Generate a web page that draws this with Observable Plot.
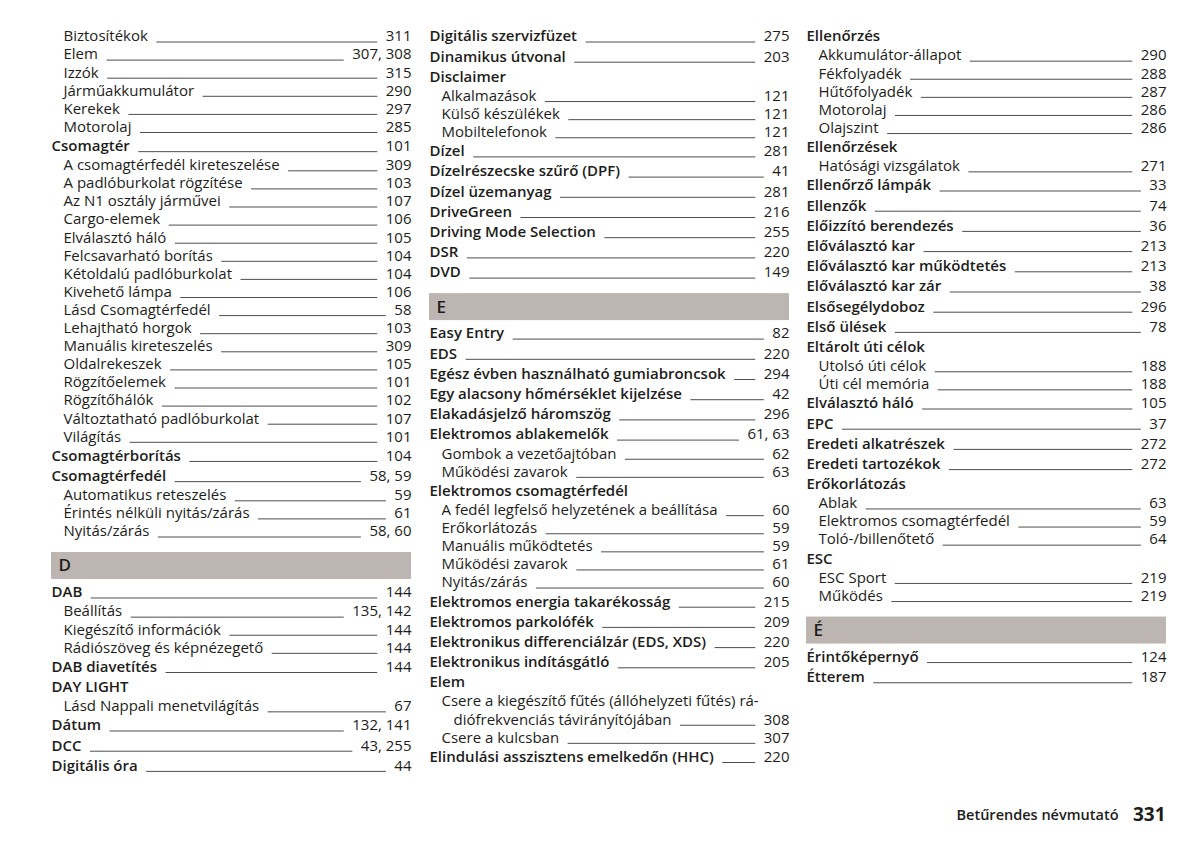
<!DOCTYPE html>
<html>
<head>
<meta charset="utf-8">
<script src="https://cdn.jsdelivr.net/npm/d3@7"></script>
<script src="https://cdn.jsdelivr.net/npm/@observablehq/plot@0.6"></script>
<style>
  html, body { margin: 0; padding: 0; background: #fff; }
</style>
</head>
<body>
<div id="chart"></div>
<script>
// level: 0 = main entry (semibold), 1 = sub entry, 2 = wrapped continuation, "H" = letter header
const column1 = [
  ["Biztosítékok", "311", 1],
  ["Elem", "307, 308", 1],
  ["Izzók", "315", 1],
  ["Járműakkumulátor", "290", 1],
  ["Kerekek", "297", 1],
  ["Motorolaj", "285", 1],
  ["Csomagtér", "101", 0],
  ["A csomagtérfedél kireteszelése", "309", 1],
  ["A padlóburkolat rögzítése", "103", 1],
  ["Az N1 osztály járművei", "107", 1],
  ["Cargo-elemek", "106", 1],
  ["Elválasztó háló", "105", 1],
  ["Felcsavarható borítás", "104", 1],
  ["Kétoldalú padlóburkolat", "104", 1],
  ["Kivehető lámpa", "106", 1],
  ["Lásd Csomagtérfedél", "58", 1],
  ["Lehajtható horgok", "103", 1],
  ["Manuális kireteszelés", "309", 1],
  ["Oldalrekeszek", "105", 1],
  ["Rögzítőelemek", "101", 1],
  ["Rögzítőhálók", "102", 1],
  ["Változtatható padlóburkolat", "107", 1],
  ["Világítás", "101", 1],
  ["Csomagtérborítás", "104", 0],
  ["Csomagtérfedél", "58, 59", 0],
  ["Automatikus reteszelés", "59", 1],
  ["Érintés nélküli nyitás/zárás", "61", 1],
  ["Nyitás/zárás", "58, 60", 1],
  ["D", null, "H"],
  ["DAB", "144", 0],
  ["Beállítás", "135, 142", 1],
  ["Kiegészítő információk", "144", 1],
  ["Rádiószöveg és képnézegető", "144", 1],
  ["DAB diavetítés", "144", 0],
  ["DAY LIGHT", null, 0],
  ["Lásd Nappali menetvilágítás", "67", 1],
  ["Dátum", "132, 141", 0],
  ["DCC", "43, 255", 0],
  ["Digitális óra", "44", 0]
];

const column2 = [
  ["Digitális szervizfüzet", "275", 0],
  ["Dinamikus útvonal", "203", 0],
  ["Disclaimer", null, 0],
  ["Alkalmazások", "121", 1],
  ["Külső készülékek", "121", 1],
  ["Mobiltelefonok", "121", 1],
  ["Dízel", "281", 0],
  ["Dízelrészecske szűrő (DPF)", "41", 0],
  ["Dízel üzemanyag", "281", 0],
  ["DriveGreen", "216", 0],
  ["Driving Mode Selection", "255", 0],
  ["DSR", "220", 0],
  ["DVD", "149", 0],
  ["E", null, "H"],
  ["Easy Entry", "82", 0],
  ["EDS", "220", 0],
  ["Egész évben használható gumiabroncsok", "294", 0],
  ["Egy alacsony hőmérséklet kijelzése", "42", 0],
  ["Elakadásjelző háromszög", "296", 0],
  ["Elektromos ablakemelők", "61, 63", 0],
  ["Gombok a vezetőajtóban", "62", 1],
  ["Működési zavarok", "63", 1],
  ["Elektromos csomagtérfedél", null, 0],
  ["A fedél legfelső helyzetének a beállítása", "60", 1],
  ["Erőkorlátozás", "59", 1],
  ["Manuális működtetés", "59", 1],
  ["Működési zavarok", "61", 1],
  ["Nyitás/zárás", "60", 1],
  ["Elektromos energia takarékosság", "215", 0],
  ["Elektromos parkolófék", "209", 0],
  ["Elektronikus differenciálzár (EDS, XDS)", "220", 0],
  ["Elektronikus indításgátló", "205", 0],
  ["Elem", null, 0],
  ["Csere a kiegészítő fűtés (állóhelyzeti fűtés) rá-", null, 1],
  ["diófrekvenciás távirányítójában", "308", 2],
  ["Csere a kulcsban", "307", 1],
  ["Elindulási asszisztens emelkedőn (HHC)", "220", 0]
];

const column3 = [
  ["Ellenőrzés", null, 0],
  ["Akkumulátor-állapot", "290", 1],
  ["Fékfolyadék", "288", 1],
  ["Hűtőfolyadék", "287", 1],
  ["Motorolaj", "286", 1],
  ["Olajszint", "286", 1],
  ["Ellenőrzések", null, 0],
  ["Hatósági vizsgálatok", "271", 1],
  ["Ellenőrző lámpák", "33", 0],
  ["Ellenzők", "74", 0],
  ["Előizzító berendezés", "36", 0],
  ["Előválasztó kar", "213", 0],
  ["Előválasztó kar működtetés", "213", 0],
  ["Előválasztó kar zár", "38", 0],
  ["Elsősegélydoboz", "296", 0],
  ["Első ülések", "78", 0],
  ["Eltárolt úti célok", null, 0],
  ["Utolsó úti célok", "188", 1],
  ["Úti cél memória", "188", 1],
  ["Elválasztó háló", "105", 0],
  ["EPC", "37", 0],
  ["Eredeti alkatrészek", "272", 0],
  ["Eredeti tartozékok", "272", 0],
  ["Erőkorlátozás", null, 0],
  ["Ablak", "63", 1],
  ["Elektromos csomagtérfedél", "59", 1],
  ["Toló-/billenőtető", "64", 1],
  ["ESC", null, 0],
  ["ESC Sport", "219", 1],
  ["Működés", "219", 1],
  ["É", null, "H"],
  ["Érintőképernyő", "124", 0],
  ["Étterem", "187", 0]
];

const footerTitle = "Betűrendes névmutató";
const footerPage = "331";

// ---- layout ----
const FONT = "Open Sans";
const SIZE = 15;
const INK = "#1d1d1b";
const columns = [
  { left: 51, right: 411 },
  { left: 429, right: 789 },
  { left: 806, right: 1166 }
];
const indents = { 0: 0, 1: 12, 2: 24 };

const ctx = document.createElement("canvas").getContext("2d");
function measure(t, weight, size) {
  ctx.font = `${weight} ${size}px "${FONT}"`;
  return ctx.measureText(t).width;
}

const entries = [], pages = [], headers = [], leaders = [];
[column1, column2, column3].forEach((col, ci) => {
  const { left, right } = columns[ci];
  let y = 36, prevHalf = null;
  col.forEach(([label, pg, level]) => {
    if (level === "H") {
      const top = y + 21;
      headers.push({ label, x1: left, x2: right, top, bottom: top + 27 });
      y = top + 27 + 13;
      prevHalf = null;
      return;
    }
    const half = level === 0 ? 10.1 : 9.05;
    if (prevHalf !== null) y += prevHalf + half;
    prevHalf = half;
    const x = left + indents[level];
    const weight = level === 0 ? 600 : 400;
    entries.push({ label, x, y, bold: level === 0 });
    if (pg) {
      pages.push({ label: pg, x: right, y });
      const x1 = x + measure(label, weight, SIZE) + 9;
      const x2 = right - measure(pg, 400, SIZE) - 8;
      leaders.push({ x1, x2, y: y + 5.5 });
    }
  });
});

const chart = Plot.plot({
  width: 1200,
  height: 845,
  margin: 0,
  x: { domain: [0, 1200], range: [0, 1200], axis: null },
  y: { domain: [0, 845], range: [0, 845], axis: null },
  style: { background: "#fff" },
  marks: [
    Plot.rect(headers, { x1: "x1", x2: "x2", y1: "top", y2: "bottom", fill: "#bdb5b2" }),
    Plot.text(headers, {
      x: d => d.x1 + 7, y: d => (d.top + d.bottom) / 2, text: "label",
      textAnchor: "start", fontSize: 17, fontWeight: 600, fontFamily: FONT, fill: INK
    }),
    Plot.ruleY(leaders, { y: "y", x1: "x1", x2: "x2", stroke: "#3a3a3a", strokeWidth: 0.9 }),
    Plot.text(entries.filter(d => d.bold), {
      x: "x", y: "y", text: "label", textAnchor: "start",
      fontSize: SIZE, fontWeight: 600, fontFamily: FONT, fill: INK
    }),
    Plot.text(entries.filter(d => !d.bold), {
      x: "x", y: "y", text: "label", textAnchor: "start",
      fontSize: SIZE, fontWeight: 400, fontFamily: FONT, fill: INK
    }),
    Plot.text(pages, {
      x: "x", y: "y", text: "label", textAnchor: "end",
      fontSize: SIZE, fontWeight: 400, fontFamily: FONT, fill: INK
    }),
    Plot.text([footerTitle], {
      x: () => 1118, y: () => 815, text: d => d, textAnchor: "end",
      fontSize: 14.5, fontWeight: 600, fontFamily: FONT, fill: INK
    }),
    Plot.text([footerPage], {
      x: () => 1165, y: () => 814, text: d => d, textAnchor: "end",
      fontSize: 19, fontWeight: 700, fontFamily: FONT, fill: INK
    })
  ]
});
document.getElementById("chart").appendChild(chart);
</script>
</body>
</html>
